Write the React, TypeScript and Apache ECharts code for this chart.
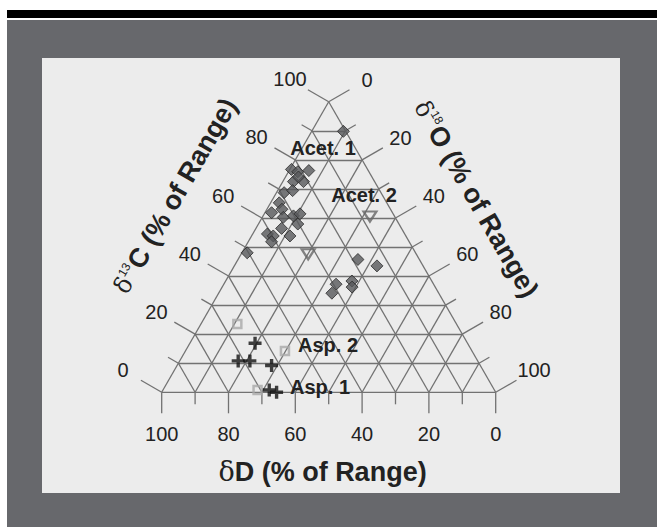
import React, { useEffect, useRef } from "react";
import * as echarts from "echarts";

// Ternary composition, % of range: δ13C, δD, δ18O (each row sums to 100)
// Acet. 1 — filled diamonds
const acet1C = [89.8, 76.7, 75.9, 76.3, 72.5, 72.5, 74.1, 68.7, 69.4, 65.2, 61.8, 63.0, 60.2, 60.7, 61.4, 57.9, 54.5, 53.8, 56.4, 51.8, 53.8, 48.0, 45.7, 43.5, 37.2, 34.1, 38.3, 36.2];
const acet1D = [0.7, 22.8, 21.3, 17.8, 24.3, 21.3, 22.0, 29.0, 26.1, 32.2, 36.2, 32.5, 33.5, 30.2, 27.9, 30.3, 41.1, 39.7, 35.9, 41.2, 34.7, 50.4, 18.4, 13.8, 29.2, 32.0, 23.9, 24.9];
const acet1O = [9.5, 0.5, 2.8, 5.9, 3.2, 6.2, 3.9, 2.3, 4.5, 2.6, 2.0, 4.5, 6.3, 9.1, 10.7, 11.8, 4.4, 6.5, 7.7, 7.0, 11.5, 1.6, 35.9, 42.7, 33.6, 33.9, 37.8, 38.9];
// Acet. 2 — open inverted triangles
const acet2C = [60.5, 47.5];
const acet2D = [7.4, 32.4];
const acet2O = [32.1, 20.1];
// Asp. 1 — plus signs
const asp1C = [16.9, 10.8, 10.8, 9.2, 0.8, 0.0];
const asp1D = [63.6, 71.7, 68.2, 62.5, 67.4, 65.6];
const asp1O = [19.5, 17.5, 21.0, 28.3, 31.8, 34.4];
// Asp. 2 — open squares
const asp2C = [23.5, 14.2, 0.8];
const asp2D = [65.6, 56.0, 70.9];
const asp2O = [10.9, 29.8, 28.3];

// grid / tick values
const gridValues = [0, 10, 20, 30, 40, 50, 60, 70, 80, 90];
const tickValues = [0, 10, 20, 30, 40, 50, 60, 70, 80, 90, 100];
const labelValues = [0, 20, 40, 60, 80, 100];

const SQ3 = Math.sqrt(3) / 2;
// ternary (C, D, O) -> cartesian data space (X in 0..100, Y in 0..86.6)
function project(c: number, d: number, o: number): [number, number] {
  const s = c + d + o;
  const cn = (c / s) * 100;
  const on = (o / s) * 100;
  return [on + cn / 2, cn * SQ3];
}

function toPoints(C: number[], D: number[], O: number[]) {
  return C.map((c, i) => project(c, D[i], O[i]));
}

const FONT = "'Liberation Sans', Arial, Helvetica, sans-serif";
const SERIF = "'DejaVu Serif', 'Liberation Serif', serif";
const GRID_COLOR = "#727272";
const TEXT_COLOR = "#222";

const titleRich = {
  d: { fontSize: 24, fontFamily: SERIF, fill: TEXT_COLOR, lineHeight: 30 },
  s: { fontSize: 12, fontFamily: FONT, fill: TEXT_COLOR, lineHeight: 12, padding: [0, 1, 14, 0] },
  b: { fontSize: 27, fontFamily: FONT, fill: TEXT_COLOR, fontWeight: "bold", lineHeight: 30 },
};

export default function App() {
  const ref = useRef<HTMLDivElement>(null);

  useEffect(() => {
    if (!ref.current) return;
    const chart = echarts.init(ref.current, undefined, { renderer: "svg" });

    // grid lines: constant C (horizontal), constant D, constant O
    const gridLines: { coords: [number, number][] }[] = [];
    gridValues.forEach((v) => {
      gridLines.push({ coords: [project(v, 100 - v, 0), project(v, 0, 100 - v)] });
      gridLines.push({ coords: [project(0, v, 100 - v), project(100 - v, v, 0)] });
      gridLines.push({ coords: [project(0, 100 - v, v), project(100 - v, 0, v)] });
    });

    // ticks: [axisIndex, value]; 0 = δ13C (left), 1 = δD (bottom), 2 = δ18O (right)
    const tickData: number[][] = [];
    [0, 1, 2].forEach((a) => tickValues.forEach((v) => tickData.push([a, v])));

    const plusPath = "path://M3.7,0H6.3V3.7H10V6.3H6.3V10H3.7V6.3H0V3.7H3.7Z";

    const option: any = {
      animation: false,
      backgroundColor: "#ffffff",
      grid: { left: 161.7, top: 101.7, width: 334, height: 290.6, containLabel: false },
      xAxis: { type: "value", min: 0, max: 100, show: false },
      yAxis: { type: "value", min: 0, max: 100 * SQ3, show: false },
      graphic: [
        { type: "rect", z: -10, shape: { x: 7, y: 10, width: 650, height: 8 }, style: { fill: "#000000" }, silent: true },
        { type: "rect", z: -10, shape: { x: 7, y: 20, width: 650, height: 507 }, style: { fill: "#67686c" }, silent: true },
        { type: "rect", z: -9, shape: { x: 42, y: 58, width: 578, height: 435 }, style: { fill: "#ececec" }, silent: true },
        {
          type: "text", z: 10, x: 322.5, y: 471.5,
          style: {
            text: "{d|δ}{b|D (% of Range)}", align: "center", verticalAlign: "middle",
            rich: {
              d: { fontSize: 27, fontFamily: SERIF, fill: TEXT_COLOR, fontWeight: "normal" },
              b: { fontSize: 27, fontFamily: FONT, fill: TEXT_COLOR, fontWeight: "bold" },
            },
          },
        },
        {
          type: "text", z: 10, x: 175, y: 196, rotation: Math.PI / 3,
          style: { text: "{d|δ}{s|13}{b|C (% of Range)}", align: "center", verticalAlign: "middle", rich: titleRich },
        },
        {
          type: "text", z: 10, x: 476, y: 199, rotation: -Math.PI / 3,
          style: { text: "{d|δ}{s|18}{b|O (% of Range)}", align: "center", verticalAlign: "middle", rich: titleRich },
        },
        { type: "text", z: 10, x: 323, y: 148, style: { text: "Acet. 1", align: "center", verticalAlign: "middle", font: `bold 20px ${FONT}`, fill: TEXT_COLOR } },
        { type: "text", z: 10, x: 364, y: 195, style: { text: "Acet. 2", align: "center", verticalAlign: "middle", font: `bold 20px ${FONT}`, fill: TEXT_COLOR } },
        { type: "text", z: 10, x: 328, y: 345, style: { text: "Asp. 2", align: "center", verticalAlign: "middle", font: `bold 20px ${FONT}`, fill: TEXT_COLOR } },
        { type: "text", z: 10, x: 320, y: 386.5, style: { text: "Asp. 1", align: "center", verticalAlign: "middle", font: `bold 20px ${FONT}`, fill: TEXT_COLOR } },
      ],
      series: [
        {
          type: "lines",
          coordinateSystem: "cartesian2d",
          silent: true,
          z: 1,
          lineStyle: { color: GRID_COLOR, width: 1.3, opacity: 1 },
          data: gridLines,
        },
        {
          type: "custom",
          coordinateSystem: "cartesian2d",
          silent: true,
          z: 1,
          clip: false,
          data: tickData,
          renderItem: (_params: any, api: any) => {
            const a = api.value(0);
            const v = api.value(1);
            let pt: [number, number];
            let dir: [number, number];
            let len: number;
            let lab: number;
            const long = v % 20 === 0;
            if (a === 0) {
              pt = project(v, 100 - v, 0);
              dir = [-SQ3, -0.5];
              len = long ? 24 : 12;
              lab = 44.7;
            } else if (a === 1) {
              pt = project(0, v, 100 - v);
              dir = [0, 1];
              len = long ? 21 : 12;
              lab = 42;
            } else {
              pt = project(100 - v, 0, v);
              dir = [SQ3, -0.5];
              len = long ? 24 : 12;
              lab = 44.3;
            }
            const p = api.coord(pt);
            const children: any[] = [
              {
                type: "line",
                shape: { x1: p[0], y1: p[1], x2: p[0] + dir[0] * len, y2: p[1] + dir[1] * len },
                style: { stroke: GRID_COLOR, lineWidth: 1.3 },
              },
            ];
            if (labelValues.indexOf(v) >= 0) {
              children.push({
                type: "text",
                x: p[0] + dir[0] * lab,
                y: p[1] + dir[1] * lab,
                style: { text: String(v), align: "center", verticalAlign: "middle", font: `20px ${FONT}`, fill: TEXT_COLOR },
              });
            }
            return { type: "group", children };
          },
        },
        {
          name: "Acet. 1",
          type: "scatter",
          clip: false,
          z: 3,
          symbol: "diamond",
          symbolSize: 12,
          itemStyle: { color: "#58595b", borderColor: "#2b2b2b", borderWidth: 1 },
          data: toPoints(acet1C, acet1D, acet1O),
        },
        {
          name: "Acet. 2",
          type: "scatter",
          clip: false,
          z: 3,
          symbol: "triangle",
          symbolRotate: 180,
          symbolSize: [13, 10],
          itemStyle: { color: "rgba(0,0,0,0)", borderColor: "#666", borderWidth: 2.2 },
          data: toPoints(acet2C, acet2D, acet2O),
        },
        {
          name: "Asp. 2",
          type: "scatter",
          clip: false,
          z: 3,
          symbol: "rect",
          symbolSize: 8,
          itemStyle: { color: "rgba(0,0,0,0)", borderColor: "#a9a9a9", borderWidth: 2.5 },
          data: toPoints(asp2C, asp2D, asp2O),
        },
        {
          name: "Asp. 1",
          type: "scatter",
          clip: false,
          z: 4,
          symbol: plusPath,
          symbolSize: 13,
          itemStyle: { color: "#111111" },
          data: toPoints(asp1C, asp1D, asp1O),
        },
      ],
    };

    chart.setOption(option);
    return () => chart.dispose();
  }, []);

  return (
    <div
      ref={ref}
      style={{ position: "absolute", left: 0, top: 0, width: 657, height: 527 }}
    />
  );
}
